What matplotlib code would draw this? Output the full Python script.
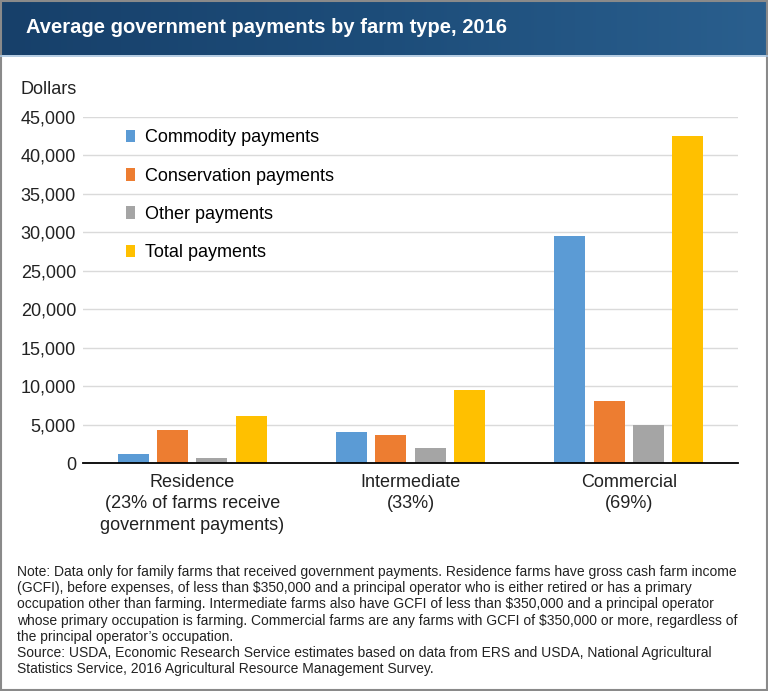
import numpy as np
import matplotlib.pyplot as plt
from matplotlib.patches import Rectangle
from matplotlib.colors import LinearSegmentedColormap

plt.rcParams['font.family'] = ['Liberation Sans', 'DejaVu Sans']

# dados
farm_types = ["Residence\n(23% of farms receive\ngovernment payments)",
              "Intermediate\n(33%)",
              "Commercial\n(69%)"]
series_names = ["Commodity payments", "Conservation payments",
                "Other payments", "Total payments"]
commodity = [1200, 4000, 29500]
conservation = [4250, 3700, 8000]
other = [650, 1900, 5000]
total = [6100, 9500, 42500]
yticks = [0, 5000, 10000, 15000, 20000, 25000, 30000, 35000, 40000, 45000]

cores = ["#5b9bd5", "#ed7d31", "#a5a5a5", "#ffc000"]
title = "Average government payments by farm type, 2016"
note = ("Note: Data only for family farms that received government payments. Residence farms have gross cash farm income\n"
        "(GCFI), before expenses, of less than $350,000 and a principal operator who is either retired or has a primary\n"
        "occupation other than farming. Intermediate farms also have GCFI of less than $350,000 and a principal operator\n"
        "whose primary occupation is farming. Commercial farms are any farms with GCFI of $350,000 or more, regardless of\n"
        "the principal operator\u2019s occupation.\n"
        "Source: USDA, Economic Research Service estimates based on data from ERS and USDA, National Agricultural\n"
        "Statistics Service, 2016 Agricultural Resource Management Survey.")

fig = plt.figure(figsize=(7.68, 6.91), dpi=100)

# faixa do titulo com gradiente
ban = fig.add_axes([0, 1 - 55/691, 1, 55/691])
grad = np.linspace(0, 1, 256).reshape(1, -1)
cmap = LinearSegmentedColormap.from_list("ban", ["#17406a", "#1d4d7a", "#2a5f8e"])
ban.imshow(grad, aspect='auto', cmap=cmap, extent=[0, 1, 0, 1])
ban.set_xlim(0, 1)
ban.set_ylim(0, 1)
ban.axis('off')
ban.text(26/768, 0.5, title, color='white', fontsize=14.5, fontweight='bold',
         va='center', ha='left', transform=ban.transAxes)
fig.add_artist(plt.Line2D([0, 1], [1 - 56/691, 1 - 56/691], color='#a8c4de', lw=1.2))

# grafico
ax = fig.add_axes([83/768, 1 - 463/691, 655/768, 346/691])
x = np.arange(len(farm_types))
largura = 0.142
passo = 0.18
valores = [commodity, conservation, other, total]
for i, (nome, v) in enumerate(zip(series_names, valores)):
    ax.bar(x + (i - 1.5) * passo, v, largura, color=cores[i], label=nome, zorder=3)

ax.set_xlim(-0.5, 2.5)
ax.set_ylim(0, 45000)
ax.set_yticks(yticks)
ax.set_yticklabels(["{:,}".format(t) for t in yticks], fontsize=13, color='#222222')
ax.set_xticks(x)
ax.set_xticklabels(farm_types, fontsize=13, color='#222222')
for lab in ax.get_xticklabels():
    lab.set_linespacing(1.33)
ax.tick_params(axis='both', length=0)
ax.tick_params(axis='y', pad=5)
ax.tick_params(axis='x', pad=8)
ax.grid(axis='y', color='#dadada', lw=1, zorder=0)
for s in ['top', 'right', 'left']:
    ax.spines[s].set_visible(False)
ax.spines['bottom'].set_color('black')
ax.spines['bottom'].set_linewidth(1.3)
ax.spines['bottom'].set_zorder(4)

ax.legend(loc='upper left', bbox_to_anchor=(0.055, 0.985), frameon=False,
          fontsize=13, handlelength=0.5, handleheight=0.7, handletextpad=0.55,
          labelspacing=1.18, borderaxespad=0)

fig.text(20/768, 1 - 89/691, "Dollars", fontsize=13, va='center', ha='left', color='#222222')

fig.text(17/768, 1 - 565/691, note, fontsize=10, va='top', ha='left',
         color='#222222', linespacing=1.2)

# moldura
fig.add_artist(Rectangle((0.001, 0.001), 0.998, 0.998, transform=fig.transFigure,
                         fill=False, edgecolor='#8a8a8a', lw=1.5))

fig.savefig("out.png", dpi=100)
